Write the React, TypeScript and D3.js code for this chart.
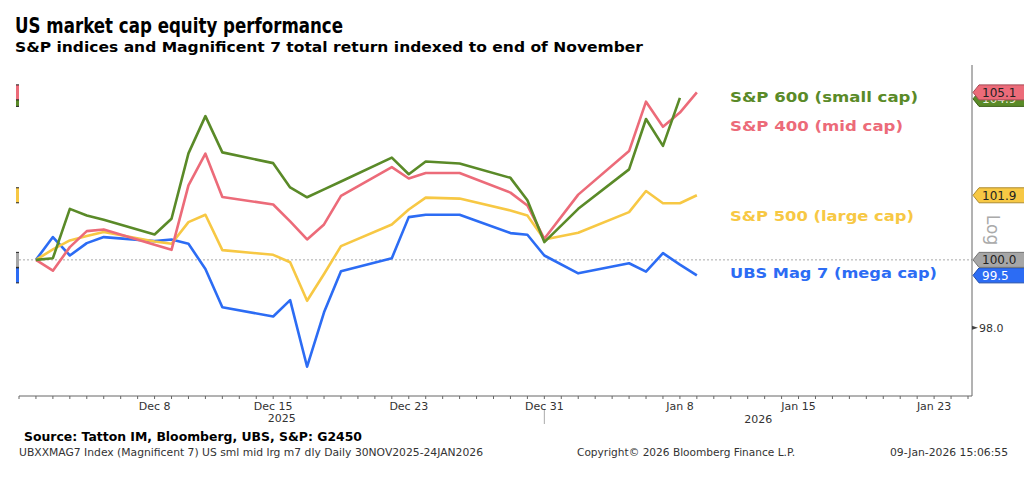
import * as d3 from "d3";
import { useEffect, useRef } from "react";

const W = 1024;
const H = 479;

// trading days shown on the chart
const tradingDays = [
  "2025-12-01", "2025-12-02", "2025-12-03", "2025-12-04", "2025-12-05",
  "2025-12-08", "2025-12-09", "2025-12-10", "2025-12-11", "2025-12-12",
  "2025-12-15", "2025-12-16", "2025-12-17", "2025-12-18", "2025-12-19",
  "2025-12-22", "2025-12-23", "2025-12-24", "2025-12-26", "2025-12-29",
  "2025-12-30", "2025-12-31", "2026-01-02", "2026-01-05", "2026-01-06",
  "2026-01-07", "2026-01-08", "2026-01-09",
];

const sp600 = [
  100.0, 100.05, 101.53, 101.33, 101.2, 100.76, 101.23, 103.22, 104.37, 103.25,
  102.92, 102.18, 101.88, 102.12, 102.36, 103.09, 102.58, 102.97, 102.91, 102.47,
  101.79, 100.53, 101.53, 102.73, 104.28, 103.45, 104.94, null,
];
const sp400 = [
  100.0, 99.68, 100.38, 100.86, 100.91, 100.45, 100.3, 102.24, 103.21, 101.89,
  101.66, 101.15, 100.61, 101.06, 101.92, 102.8, 102.45, 102.62, 102.62, 102.02,
  101.63, 100.63, 101.96, 103.29, 104.82, 104.04, 104.48, 105.11,
];
const sp500 = [
  100.0, 100.31, 100.58, 100.71, 100.83, 100.55, 100.48, 101.13, 101.35, 100.29,
  100.15, 99.93, 98.79, 99.58, 100.41, 101.06, 101.51, 101.87, 101.84, 101.48,
  101.33, 100.61, 100.81, 101.43, 102.07, 101.7, 101.7, 101.94,
];
const mag7 = [
  100.0, 100.68, 100.13, 100.5, 100.68, 100.56, 100.61, 100.48, 99.73, 98.6,
  98.33, 98.81, 96.87, 98.45, 99.66, 100.05, 101.28, 101.35, 101.35, 100.8,
  100.75, 100.13, 99.6, 99.9, 99.65, 100.2, 99.86, 99.54,
];

const seriesNames = ["UBS Mag 7 (mega cap)", "S&P 500 (large cap)", "S&P 400 (mid cap)", "S&P 600 (small cap)"];
const seriesColors = ["#2c6cf4", "#f7c844", "#ec6b79", "#5a8a28"];
const tagTextColors = ["#fff", "#222", "#222", "#e8f0dc"];
const seriesData = [mag7, sp500, sp400, sp600];

const xTickLabels = ["2025-12-08", "2025-12-15", "2025-12-23", "2025-12-31", "2026-01-08", "2026-01-15", "2026-01-23"];
const yTicks = [98];
const baseValue = 100;

const parse = d3.utcParse("%Y-%m-%d");
const FONT = "'DejaVu Sans', Verdana, sans-serif";

export default function App() {
  const ref = useRef<SVGSVGElement>(null);

  useEffect(() => {
    const svg = d3.select(ref.current);
    svg.selectAll("*").remove();

    const x = d3
      .scaleUtc()
      .domain([parse("2025-11-30")!, parse("2026-01-25")!])
      .range([19, 968]);
    const y = d3.scaleLog().domain([96.03, 105.97]).range([396, 65]);
    const axisRight = 972;
    const axisBottom = 396;

    svg.append("rect").attr("width", W).attr("height", H).attr("fill", "#fff");

    // titles
    svg.append("text").attr("x", 15).attr("y", 33).attr("font-family", FONT)
      .attr("font-weight", "bold").attr("font-size", 21).attr("textLength", 328)
      .attr("lengthAdjust", "spacingAndGlyphs").attr("fill", "#000")
      .text("US market cap equity performance");
    svg.append("text").attr("x", 15).attr("y", 52).attr("font-family", FONT)
      .attr("font-weight", "bold").attr("font-size", 14.5).attr("textLength", 628)
      .attr("lengthAdjust", "spacingAndGlyphs").attr("fill", "#000")
      .text("S&P indices and Magnificent 7 total return indexed to end of November");

    // reference line at 100
    svg.append("line").attr("x1", 19).attr("x2", axisRight)
      .attr("y1", y(baseValue)).attr("y2", y(baseValue))
      .attr("stroke", "#aaa").attr("stroke-width", 1).attr("stroke-dasharray", "2,2");

    // bottom axis
    svg.append("line").attr("x1", 19).attr("x2", axisRight)
      .attr("y1", axisBottom).attr("y2", axisBottom).attr("stroke", "#666");
    const days = d3.utcDay.range(parse("2025-11-30")!, d3.utcDay.offset(parse("2026-01-25")!, 1));
    svg.append("g").selectAll("line").data(days).join("line")
      .attr("x1", (d) => x(d)).attr("x2", (d) => x(d))
      .attr("y1", axisBottom).attr("y2", axisBottom + 3)
      .attr("stroke", "#666");
    svg.append("g").selectAll("text").data(xTickLabels).join("text")
      .attr("x", (d) => x(parse(d)!)).attr("y", 410)
      .attr("text-anchor", "middle").attr("font-family", FONT).attr("font-size", 11)
      .attr("fill", "#333").text((d) => d3.utcFormat("%b %-d")(parse(d)!));
    const yearSplit = x(parse("2025-12-31")!);
    svg.append("line").attr("x1", yearSplit).attr("x2", yearSplit)
      .attr("y1", 410).attr("y2", 424).attr("stroke", "#aaa");
    svg.append("text").attr("x", (19 + yearSplit) / 2).attr("y", 422)
      .attr("text-anchor", "middle").attr("font-family", FONT).attr("font-size", 11)
      .attr("fill", "#333").text("2025");
    svg.append("text").attr("x", (yearSplit + axisRight) / 2).attr("y", 423)
      .attr("text-anchor", "middle").attr("font-family", FONT).attr("font-size", 11)
      .attr("fill", "#333").text("2026");

    // right axis
    svg.append("line").attr("x1", axisRight).attr("x2", axisRight)
      .attr("y1", 65).attr("y2", axisBottom).attr("stroke", "#666");
    yTicks.forEach((t) => {
      svg.append("path")
        .attr("d", `M${axisRight},${y(t) - 2}L${axisRight + 6},${y(t)}L${axisRight},${y(t) + 2}Z`)
        .attr("fill", "#444");
      svg.append("text").attr("x", axisRight + 7).attr("y", y(t)).attr("dy", "0.35em")
        .attr("font-family", FONT).attr("font-size", 11).attr("fill", "#333")
        .text(d3.format(".1f")(t));
    });
    svg.append("text").attr("transform", "translate(987,230) rotate(90)")
      .attr("text-anchor", "middle").attr("font-family", FONT).attr("font-size", 17)
      .attr("fill", "#aaa").text("Log");

    // lines
    const line = d3
      .line<number | null>()
      .defined((d) => d !== null)
      .x((_, i) => x(parse(tradingDays[i])!))
      .y((d) => y(d as number));
    seriesData.forEach((vals, k) => {
      svg.append("path").datum(vals).attr("d", line)
        .attr("fill", "none").attr("stroke", seriesColors[k])
        .attr("stroke-width", 2.6).attr("stroke-linejoin", "round");
    });

    // series names
    const nameY = [278, 221, 131, 102];
    const nameW = [207, 184, 173, 188];
    seriesNames.forEach((n, k) => {
      svg.append("text").attr("x", 730).attr("y", nameY[k]).attr("font-family", FONT)
        .attr("font-weight", "bold").attr("font-size", 14.5).attr("fill", seriesColors[k])
        .attr("textLength", nameW[k]).attr("lengthAdjust", "spacingAndGlyphs").text(n);
    });

    // last value tags (right) and stubs (left)
    type Tag = { v: number; fill: string; text: string; y: number };
    const tags: Tag[] = seriesData.map((vals, k) => {
      const last = vals.filter((v) => v !== null).slice(-1)[0] as number;
      return { v: last, fill: seriesColors[k], text: tagTextColors[k], y: y(last) };
    });
    tags.push({ v: baseValue, fill: "#a6a6a6", text: "#222", y: y(baseValue) });
    tags.sort((a, b) => a.y - b.y);
    for (let i = 1; i < tags.length; i++) {
      if (tags[i].y < tags[i - 1].y + 6.5) tags[i].y = tags[i - 1].y + 6.5;
    }
    const th = 15;
    const drawOrder = [...tags].sort((a, b) => b.y - a.y);
    drawOrder.forEach((t) => {
      const c = d3.color(t.fill)!.darker(1).formatHex();
      svg.append("path")
        .attr("d", `M${axisRight + 1},${t.y}L${axisRight + 7},${t.y - th / 2}L${W + 2},${t.y - th / 2}L${W + 2},${t.y + th / 2}L${axisRight + 7},${t.y + th / 2}Z`)
        .attr("fill", t.fill).attr("stroke", c).attr("stroke-width", 1);
      svg.append("text").attr("x", axisRight + 10).attr("y", t.y).attr("dy", "0.37em")
        .attr("font-family", FONT).attr("font-size", 12).attr("fill", t.text)
        .text(d3.format(".1f")(t.v));
      svg.append("rect").attr("x", 16).attr("y", t.y - th / 2).attr("width", 3).attr("height", th)
        .attr("fill", t.fill);
      svg.append("line").attr("x1", 16).attr("x2", 19).attr("y1", t.y - th / 2).attr("y2", t.y - th / 2)
        .attr("stroke", "#222");
      svg.append("line").attr("x1", 16).attr("x2", 19).attr("y1", t.y + th / 2).attr("y2", t.y + th / 2)
        .attr("stroke", "#222");
    });

    // footer
    svg.append("text").attr("x", 24).attr("y", 441).attr("font-family", FONT)
      .attr("font-weight", "bold").attr("font-size", 13).attr("textLength", 338)
      .attr("lengthAdjust", "spacingAndGlyphs").attr("fill", "#000")
      .text("Source: Tatton IM, Bloomberg, UBS, S&P: G2450");
    svg.append("text").attr("x", 19).attr("y", 456).attr("font-family", FONT)
      .attr("font-size", 11).attr("textLength", 464).attr("lengthAdjust", "spacingAndGlyphs")
      .attr("fill", "#333")
      .text("UBXXMAG7 Index (Magnificent 7) US sml mid lrg m7 dly Daily 30NOV2025-24JAN2026");
    svg.append("text").attr("x", 577).attr("y", 456).attr("font-family", FONT)
      .attr("font-size", 11).attr("textLength", 218).attr("lengthAdjust", "spacingAndGlyphs")
      .attr("fill", "#333").text("Copyright\u00a9 2026 Bloomberg Finance L.P.");
    svg.append("text").attr("x", 890).attr("y", 456).attr("font-family", FONT)
      .attr("font-size", 11).attr("textLength", 118).attr("lengthAdjust", "spacingAndGlyphs")
      .attr("fill", "#333").text("09-Jan-2026 15:06:55");
  }, []);

  return (
    <svg
      ref={ref}
      width={W}
      height={H}
      style={{ position: "absolute", left: 0, top: 0, display: "block" }}
    />
  );
}
